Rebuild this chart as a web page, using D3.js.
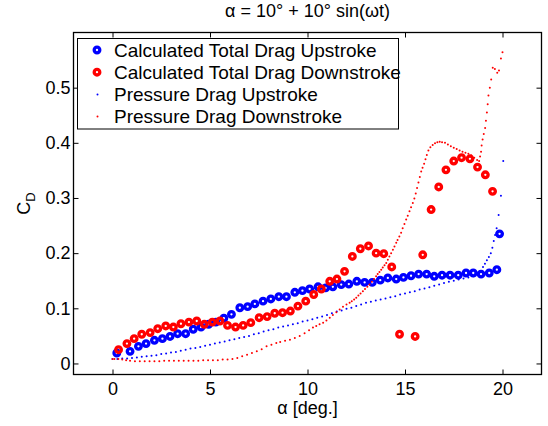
<!DOCTYPE html>
<html>
<head>
<meta charset="utf-8">
<script src="https://cdn.jsdelivr.net/npm/d3@7"></script>
<style>
  body { margin: 0; background: #fff; }
  svg { display: block; }
  text { font-family: 'Liberation Sans', Arial, Helvetica, sans-serif; fill: #000; }
  .axis line { stroke: #000; stroke-width: 1; }
  .axis text { font-size: 18px; }
</style>
</head>
<body>
<div id="chart"></div>
<script>
// values
var titleText = 'α = 10° + 10° sin(ωt)';
var xLabel = 'α [deg.]';
var xTicks = [0, 5, 10, 15, 20];
var yTicks = [0, 0.1, 0.2, 0.3, 0.4, 0.5];
var legendLabels = [
  'Calculated Total Drag Upstroke',
  'Calculated Total Drag Downstroke',
  'Pressure Drag Upstroke',
  'Pressure Drag Downstroke'
];

var alphaTotalUp = [0.22, 0.9, 1.33, 1.72, 2.15, 2.56, 2.95, 3.34, 3.75, 4.14, 4.54, 4.93,
  5.3, 5.71, 6.1, 6.53, 6.93, 7.3, 7.72, 8.12, 8.53, 8.92, 9.35, 9.74, 10.11, 10.54,
  10.93, 11.3, 11.73, 12.12, 12.53, 12.93, 13.32, 13.73, 14.12, 14.55, 14.92, 15.31,
  15.7, 16.11, 16.5, 16.9, 17.31, 17.73, 18.13, 18.5, 18.9, 19.32, 19.71, 19.85];
var cdTotalUp = [0.019, 0.022, 0.031, 0.036, 0.042, 0.045, 0.049, 0.054, 0.054, 0.062, 0.066, 0.071,
  0.075, 0.082, 0.089, 0.101, 0.103, 0.108, 0.113, 0.117, 0.121, 0.121, 0.129, 0.132, 0.135, 0.139,
  0.137, 0.139, 0.143, 0.144, 0.149, 0.147, 0.147, 0.151, 0.155, 0.153, 0.156, 0.159,
  0.162, 0.162, 0.158, 0.16, 0.16, 0.16, 0.164, 0.164, 0.162, 0.164, 0.17, 0.235];

var alphaTotalDown = [0.31, 0.74, 1.11, 1.5, 1.93, 2.32, 2.73, 3.12, 3.51, 3.92, 4.32, 4.71,
  5.12, 5.51, 5.9, 6.31, 6.7, 7.09, 7.52, 7.93, 8.32, 8.72, 9.12, 9.51, 9.91, 10.32,
  10.71, 11.14, 11.51, 11.9, 12.3, 12.71, 13.13, 13.52, 13.91, 14.32, 14.72, 15.52,
  15.91, 16.34, 16.73, 17.1, 17.5, 17.9, 18.33, 18.72, 19.12, 19.49];
var cdTotalDown = [0.025, 0.036, 0.045, 0.053, 0.056, 0.063, 0.068, 0.066, 0.072, 0.075, 0.077, 0.071,
  0.075, 0.077, 0.069, 0.066, 0.069, 0.074, 0.083, 0.085, 0.091, 0.092, 0.095, 0.104, 0.113, 0.125,
  0.135, 0.149, 0.153, 0.167, 0.194, 0.208, 0.213, 0.2, 0.199, 0.175, 0.053, 0.049,
  0.197, 0.279, 0.32, 0.351, 0.367, 0.373, 0.371, 0.356, 0.342, 0.312];

// [alpha, cd]
var pressureUp = [
  [0, 0.008], [0.25, 0.008], [0.5, 0.009], [0.75, 0.009], [1, 0.01], [1.25, 0.011],
  [1.5, 0.012], [1.75, 0.013], [2, 0.014], [2.25, 0.015], [2.5, 0.017], [2.75, 0.018],
  [3, 0.02], [3.25, 0.021], [3.5, 0.023], [3.75, 0.025], [4, 0.027], [4.25, 0.028],
  [4.5, 0.03], [4.75, 0.032], [5, 0.034], [5.25, 0.036], [5.5, 0.038], [5.75, 0.04],
  [6, 0.042], [6.25, 0.044], [6.5, 0.046], [6.75, 0.048], [7, 0.05], [7.25, 0.053],
  [7.5, 0.055], [7.75, 0.058], [8, 0.06], [8.25, 0.062], [8.5, 0.065], [8.75, 0.067],
  [9, 0.069], [9.25, 0.071], [9.5, 0.073], [9.75, 0.076], [10, 0.078], [10.25, 0.08],
  [10.5, 0.083], [10.75, 0.085], [11, 0.088], [11.25, 0.091], [11.5, 0.094], [11.75, 0.096],
  [12, 0.099], [12.25, 0.101], [12.5, 0.104], [12.75, 0.107], [13, 0.11], [13.25, 0.112],
  [13.5, 0.114], [13.75, 0.116], [14, 0.118], [14.25, 0.12], [14.5, 0.122], [14.75, 0.125],
  [15, 0.127], [15.25, 0.129], [15.5, 0.131], [15.75, 0.134], [16, 0.136], [16.25, 0.138],
  [16.5, 0.141], [16.75, 0.143], [17, 0.146], [17.25, 0.148], [17.5, 0.15], [17.75, 0.152],
  [18, 0.154], [18.25, 0.156], [18.5, 0.158], [18.7, 0.162], [18.85, 0.167], [19, 0.175],
  [19.1, 0.181], [19.2, 0.187], [19.3, 0.193], [19.4, 0.2], [19.48, 0.21], [19.55, 0.222],
  [19.62, 0.233], [19.7, 0.245], [19.8, 0.269], [19.92, 0.304], [20.04, 0.367]
];

var pressureDown = [
  [20, 0.564], [19.92, 0.553], [19.82, 0.531], [19.73, 0.527], [19.61, 0.534], [19.5, 0.536],
  [19.42, 0.515], [19.35, 0.5], [19.28, 0.486], [19.24, 0.47], [19.2, 0.455], [19.15, 0.44],
  [19.11, 0.427], [19.04, 0.416], [18.98, 0.406], [18.93, 0.395], [18.9, 0.384], [18.85, 0.375],
  [18.8, 0.367], [18.7, 0.369], [18.55, 0.373], [18.4, 0.377], [18.25, 0.38], [18.1, 0.382],
  [17.95, 0.384], [17.8, 0.386], [17.65, 0.389], [17.5, 0.391], [17.35, 0.394], [17.2, 0.397],
  [17.05, 0.4], [16.9, 0.401], [16.78, 0.402], [16.66, 0.401], [16.54, 0.399], [16.42, 0.396],
  [16.3, 0.392], [16.2, 0.386], [16.12, 0.378], [16.05, 0.37], [15.98, 0.362], [15.9, 0.355],
  [15.83, 0.348], [15.76, 0.338], [15.69, 0.328], [15.62, 0.318], [15.55, 0.308], [15.48, 0.299],
  [15.4, 0.291], [15.31, 0.283], [15.23, 0.276], [15.14, 0.268], [15.06, 0.261], [14.97, 0.253],
  [14.88, 0.245], [14.8, 0.237], [14.71, 0.23], [14.62, 0.224], [14.55, 0.219], [14.46, 0.212],
  [14.38, 0.206], [14.29, 0.2], [14.2, 0.194], [14.12, 0.188], [14.04, 0.182], [13.95, 0.178],
  [13.86, 0.174], [13.78, 0.17], [13.69, 0.166], [13.6, 0.162], [13.52, 0.158], [13.41, 0.153],
  [13.3, 0.148], [13.18, 0.143], [13.07, 0.139], [12.95, 0.135], [12.84, 0.131], [12.72, 0.127],
  [12.61, 0.123], [12.5, 0.119], [12.39, 0.116], [12.27, 0.113], [12.16, 0.11], [12, 0.107],
  [11.82, 0.103], [11.65, 0.098], [11.48, 0.093], [11.3, 0.088], [11.14, 0.083], [10.97, 0.078],
  [10.8, 0.074], [10.62, 0.071], [10.45, 0.068], [10.28, 0.065], [10.08, 0.06], [9.85, 0.055],
  [9.6, 0.05], [9.35, 0.046], [9.1, 0.043], [8.85, 0.041], [8.6, 0.039], [8.4, 0.037],
  [8.15, 0.034], [7.9, 0.031], [7.65, 0.026], [7.4, 0.022], [7.15, 0.019], [6.9, 0.016],
  [6.65, 0.013], [6.4, 0.01], [6.15, 0.008], [5.9, 0.007], [5.65, 0.007], [5.4, 0.006],
  [5.15, 0.006], [4.9, 0.006], [4.65, 0.006], [4.4, 0.005], [4.15, 0.005], [3.9, 0.005],
  [3.65, 0.005], [3.4, 0.005], [3.15, 0.005], [2.9, 0.005], [2.65, 0.005], [2.4, 0.004],
  [2.15, 0.004], [1.9, 0.004], [1.65, 0.004], [1.4, 0.004], [1.15, 0.004], [0.9, 0.005],
  [0.7, 0.006], [0.5, 0.007], [0.3, 0.008], [0.1, 0.008], [0, 0.008]
];

var blue = '#0000ff',
    red = '#ff0000';

var width = 548,
    height = 426,
    plot = { left: 73.5, right: 541.5, top: 32.5, bottom: 374.5 };

var svg = d3.select('#chart').append('svg')
    .attr('width', width)
    .attr('height', height);

var x = d3.scaleLinear()
    .domain([-2, 22])
    .range([plot.left, plot.right]);

var y = d3.scaleLinear()
    .domain([-0.02, 0.6])
    .range([plot.bottom, plot.top]);

var zip = function (xs, ys) {
  return xs.map(function (d, i) { return [d, ys[i]]; });
}

// axes with inward ticks on all four sides
svg.append('g')
    .attr('class', 'axis')
    .attr('transform', 'translate(0,' + plot.bottom + ')')
    .call(d3.axisBottom(x).tickValues(xTicks).tickSizeInner(-5).tickSizeOuter(0).tickPadding(8))
    .call(function (g) { g.select('.domain').remove(); });

svg.append('g')
    .attr('class', 'axis')
    .attr('transform', 'translate(0,' + plot.top + ')')
    .call(d3.axisTop(x).tickValues(xTicks).tickSizeInner(-5).tickSizeOuter(0).tickFormat(''))
    .call(function (g) { g.select('.domain').remove(); });

svg.append('g')
    .attr('class', 'axis')
    .attr('transform', 'translate(' + plot.left + ',0)')
    .call(d3.axisLeft(y).tickValues(yTicks).tickSizeInner(-5).tickSizeOuter(0).tickPadding(3)
      .tickFormat(function (d) { return d === 0 ? '0' : d3.format('.1f')(d); }))
    .call(function (g) { g.select('.domain').remove(); });

svg.append('g')
    .attr('class', 'axis')
    .attr('transform', 'translate(' + plot.right + ',0)')
    .call(d3.axisRight(y).tickValues(yTicks).tickSizeInner(-5).tickSizeOuter(0).tickFormat(''))
    .call(function (g) { g.select('.domain').remove(); });

svg.append('rect')
    .attr('x', plot.left)
    .attr('y', plot.top)
    .attr('width', plot.right - plot.left)
    .attr('height', plot.bottom - plot.top)
    .style('fill', 'none')
    .style('stroke', '#000')
    .style('stroke-width', 1.3);

var drawRings = function (data, color) {
  svg.append('g').selectAll('circle')
    .data(data)
    .enter()
    .append('circle')
    .attr('cx', function (d) { return x(d[0]); })
    .attr('cy', function (d) { return y(d[1]); })
    .attr('r', 2.8)
    .style('fill', 'none')
    .style('stroke', color)
    .style('stroke-width', 3.3);
}

var drawDots = function (data, color) {
  svg.append('g').selectAll('circle')
    .data(data)
    .enter()
    .append('circle')
    .attr('cx', function (d) { return x(d[0]); })
    .attr('cy', function (d) { return y(d[1]); })
    .attr('r', 1)
    .style('fill', color);
}

drawRings(zip(alphaTotalUp, cdTotalUp), blue);
drawRings(zip(alphaTotalDown, cdTotalDown), red);
drawDots(pressureUp, blue);
drawDots(pressureDown, red);

// title and labels
svg.append('text')
    .attr('x', (plot.left + plot.right) / 2)
    .attr('y', 17)
    .attr('text-anchor', 'middle')
    .style('font-size', '18px')
    .text(titleText);

svg.append('text')
    .attr('x', (plot.left + plot.right) / 2)
    .attr('y', 414)
    .attr('text-anchor', 'middle')
    .style('font-size', '18px')
    .text(xLabel);

var yLab = svg.append('text')
    .attr('transform', 'translate(29.5,' + ((plot.top + plot.bottom) / 2) + ') rotate(-90)')
    .attr('text-anchor', 'middle')
    .style('font-size', '18px');
yLab.append('tspan').text('C');
yLab.append('tspan').attr('dy', 5.5).style('font-size', '13px').text('D');

// legend
var legend = svg.append('g').attr('class', 'legend');

legend.append('rect')
    .attr('x', 77.5)
    .attr('y', 38.5)
    .attr('width', 321)
    .attr('height', 90.5)
    .style('fill', '#fff')
    .style('stroke', '#000')
    .style('stroke-width', 1);

var legendColors = [blue, red, blue, red];

legendLabels.forEach(function (label, i) {
  var cy = 50 + i * 22.2;
  if (i < 2) {
    legend.append('circle')
      .attr('cx', 97)
      .attr('cy', cy)
      .attr('r', 2.8)
      .style('fill', 'none')
      .style('stroke', legendColors[i])
      .style('stroke-width', 3.3);
  } else {
    legend.append('circle')
      .attr('cx', 97.5)
      .attr('cy', cy)
      .attr('r', 1)
      .style('fill', legendColors[i]);
  }
  legend.append('text')
    .attr('x', 114)
    .attr('y', cy + 6.6)
    .style('font-size', '19px')
    .text(label);
});
</script>
</body>
</html>
